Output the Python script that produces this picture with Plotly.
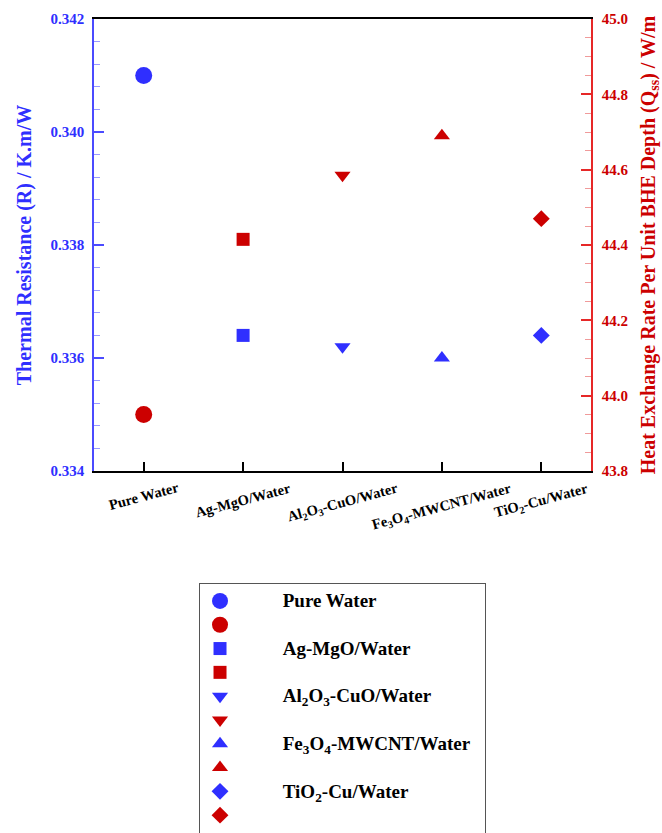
import plotly.graph_objects as go

# Nanofluid categories (HTML subscripts for chemical formulas)
categories = [
    "Pure Water",
    "Ag-MgO/Water",
    "Al<sub>2</sub>O<sub>3</sub>-CuO/Water",
    "Fe<sub>3</sub>O<sub>4</sub>-MWCNT/Water",
    "TiO<sub>2</sub>-Cu/Water",
]
# Thermal resistance R (K.m/W) - left axis
thermal_resistance = [0.3410, 0.3364, 0.3362, 0.3360, 0.3364]
# Heat exchange rate per unit BHE depth Q (W/m) - right axis
heat_rate = [43.95, 44.415, 44.585, 44.69, 44.47]

symbols = ["circle", "square", "triangle-down", "triangle-up", "diamond"]
sizes = [17, 13, 14, 14, 13]

BLUE = "#2f2fff"
RED = "#cc0000"
BLUE_AX = "#4b4bff"
RED_AX = "#e62828"
SERIF = "Liberation Serif"
NBSP = "\u00a0"

fig = go.Figure()
for i, cat in enumerate(categories):
    fig.add_trace(go.Scatter(
        x=[cat], y=[thermal_resistance[i]], mode="markers", yaxis="y",
        marker=dict(symbol=symbols[i], size=sizes[i], color=BLUE),
        name=f'<span style="font-size:19px">{NBSP * 9}{cat}{NBSP * 2}</span>',
    ))
    fig.add_trace(go.Scatter(
        x=[cat], y=[heat_rate[i]], mode="markers", yaxis="y2",
        marker=dict(symbol=symbols[i], size=sizes[i], color=RED),
        name=" ",
    ))

# Rotated, centred category labels under the axis
for cat in categories:
    fig.add_annotation(
        x=cat, xref="x", y=0, yref="paper", yshift=-6,
        text=cat, textangle=-15, showarrow=False,
        xanchor="center", yanchor="top",
        font=dict(family=SERIF, size=14.5, color="black", weight="bold"),
    )

fig.update_layout(
    width=662, height=833,
    margin=dict(l=94, r=71, t=19, b=362, autoexpand=False),
    paper_bgcolor="white", plot_bgcolor="white",
    showlegend=True,
    legend=dict(
        x=0.2113, y=-0.2479, xanchor="left", yanchor="top",
        font=dict(family=SERIF, size=16, color="black", weight="bold"),
        bordercolor="#555555", borderwidth=1, bgcolor="white",
        traceorder="normal",
    ),
    xaxis=dict(
        type="category", categoryorder="array", categoryarray=categories,
        range=[-0.5, 4.5], showticklabels=False,
        showline=True, linecolor="black", linewidth=2, mirror=True,
        ticks="inside", ticklen=9, tickwidth=1.5, tickcolor="black",
        showgrid=False, zeroline=False, automargin=False,
    ),
    yaxis=dict(
        range=[0.334, 0.342], dtick=0.002, tick0=0.334, tickformat=".3f",
        showline=True, linecolor=BLUE_AX, linewidth=1.5,
        ticks="inside", ticklen=10, tickwidth=1.5, tickcolor=BLUE_AX,
        minor=dict(dtick=0.0004, tick0=0.334, ticks="inside", ticklen=6,
                   tickwidth=1, tickcolor="#9a9aff"),
        tickfont=dict(family=SERIF, size=15, color=BLUE, weight="bold"),
        ticklabelstandoff=5,
        title=dict(text="Thermal Resistance (R) / K.m/W", standoff=14,
                   font=dict(family=SERIF, size=20, color=BLUE, weight="bold")),
        showgrid=False, zeroline=False, automargin=False,
    ),
    yaxis2=dict(
        overlaying="y", side="right", anchor="x",
        range=[43.8, 45.0], dtick=0.2, tick0=43.8, tickformat=".1f",
        showline=True, linecolor=RED_AX, linewidth=1.5,
        ticks="inside", ticklen=10, tickwidth=1.5, tickcolor=RED_AX,
        minor=dict(dtick=0.05, tick0=43.8, ticks="inside", ticklen=6,
                   tickwidth=1, tickcolor="#f09a9a"),
        tickfont=dict(family=SERIF, size=15, color=RED, weight="bold"),
        ticklabelstandoff=6,
        title=dict(text="Heat Exchange Rate Per Unit BHE Depth (Q<sub>ss</sub>) / W/m",
                   standoff=23,
                   font=dict(family=SERIF, size=20, color=RED, weight="bold")),
        showgrid=False, zeroline=False, automargin=False,
    ),
)

fig.write_html("out.html")
